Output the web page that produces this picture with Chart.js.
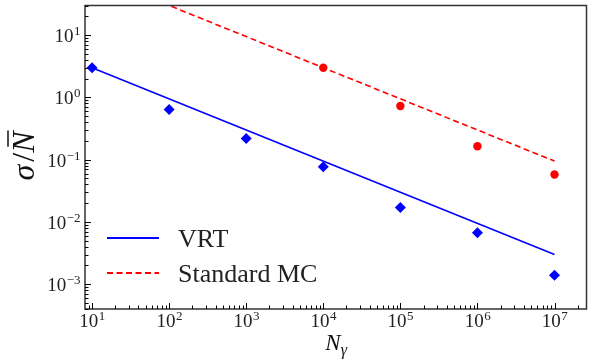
<!DOCTYPE html>
<html>
<head>
<meta charset="utf-8">
<script src="https://cdn.jsdelivr.net/npm/chart.js@4/dist/chart.umd.min.js"></script>
<style>
  html, body { margin: 0; padding: 0; background: #fff; }
  #wrap { width: 592px; height: 364px; }
</style>
</head>
<body>
<div id="wrap"><canvas id="chart"></canvas></div>
<script>
// photon counts and relative error
const nGamma = [1e1, 1e2, 1e3, 1e4, 1e5, 1e6, 1e7];
const vrtPoints = [3.0, 0.64, 0.22, 0.077, 0.017, 0.0067, 0.0014];
const mcN = [1e4, 1e5, 1e6, 1e7];
const mcPoints = [3.0, 0.73, 0.165, 0.058];

// fitted 1/sqrt(N) lines (end points)
const vrtFitX = [1e1, 1e7];
const vrtFitY = [3.0, 0.003];
const mcFitX = [1e1, 1e7];
const mcFitY = [95, 0.095];

const xTickExps = [1, 2, 3, 4, 5, 6, 7];
const yTickExps = [-3, -2, -1, 0, 1];

const SERIF = '"Liberation Serif", "DejaVu Serif", serif';

function pairs(xs, ys) {
    return xs.map((x, i) => ({ x: x, y: ys[i] }));
}

// frame, inward ticks, tick labels, axis titles and legend
const decorPlugin = {
    id: 'decor',
    afterDraw(chart) {
        const ctx = chart.ctx;
        const a = chart.chartArea;
        const xs = chart.scales.x;
        const ys = chart.scales.y;
        ctx.save();

        // frame
        ctx.strokeStyle = '#333';
        ctx.lineWidth = 1.5;
        ctx.strokeRect(a.left, a.top, a.right - a.left, a.bottom - a.top);

        // ticks
        ctx.strokeStyle = '#000';
        ctx.lineWidth = 1;
        for (let e = -4; e <= 8; e++) {
            for (let k = 1; k <= 9; k++) {
                const v = k * Math.pow(10, e);
                const len = k === 1 ? 6 : 3.5;
                if (v >= xs.min && v <= xs.max) {
                    const px = Math.round(xs.getPixelForValue(v)) + 0.5;
                    ctx.beginPath();
                    ctx.moveTo(px, a.bottom);
                    ctx.lineTo(px, a.bottom - len);
                    ctx.stroke();
                }
                if (v >= ys.min && v <= ys.max) {
                    const py = Math.round(ys.getPixelForValue(v)) + 0.5;
                    ctx.beginPath();
                    ctx.moveTo(a.left, py);
                    ctx.lineTo(a.left + len, py);
                    ctx.stroke();
                }
            }
        }

        // tick labels 10^n
        ctx.fillStyle = '#222';
        ctx.textBaseline = 'alphabetic';
        const baseFont = '19px ' + SERIF;
        const expFont = '13px ' + SERIF;
        function expText(e) { return e < 0 ? '\u2212' + (-e) : String(e); }
        function labelWidth(e) {
            ctx.font = baseFont;
            const w1 = ctx.measureText('10').width;
            ctx.font = expFont;
            const w2 = ctx.measureText(expText(e)).width;
            return [w1, w2];
        }
        function drawLabel(e, left, baseline) {
            const w = labelWidth(e);
            ctx.font = baseFont;
            ctx.textAlign = 'left';
            ctx.fillText('10', left, baseline);
            ctx.font = expFont;
            ctx.fillText(expText(e), left + w[0] + 0.5, baseline - 7);
        }
        xTickExps.forEach(e => {
            const px = xs.getPixelForValue(Math.pow(10, e));
            const w = labelWidth(e);
            drawLabel(e, px - (w[0] + w[1]) / 2, a.bottom + 18);
        });
        yTickExps.forEach(e => {
            const py = ys.getPixelForValue(Math.pow(10, e));
            const w = labelWidth(e);
            drawLabel(e, a.left - 5 - (w[0] + w[1]), py + 7);
        });

        // x title  N_gamma
        ctx.fillStyle = '#111';
        ctx.font = 'italic 23px ' + SERIF;
        ctx.textAlign = 'left';
        const nW = ctx.measureText('N').width;
        const xCenter = 338;
        ctx.fillText('N', xCenter - nW / 2 - 5, 350);
        ctx.font = 'italic 16px ' + SERIF;
        ctx.fillText('\u03B3', xCenter + nW / 2 - 5, 355);

        // y title  sigma / N-bar (rotated)
        ctx.save();
        ctx.translate(22, 156);
        ctx.rotate(-Math.PI / 2);
        ctx.font = 'italic 32px ' + SERIF;
        const sW = ctx.measureText('\u03C3').width;
        ctx.font = '32px ' + SERIF;
        const slW = ctx.measureText('/').width;
        ctx.font = 'italic 32px ' + SERIF;
        const NW = ctx.measureText('N').width;
        const total = sW + 3 + slW + NW;
        let u = -total / 2;
        const base = 12;
        ctx.fillText('\u03C3', u, base);
        u += sW + 3;
        ctx.font = '32px ' + SERIF;
        ctx.fillText('/', u, base);
        u += slW;
        ctx.font = 'italic 32px ' + SERIF;
        ctx.fillText('N', u, base);
        ctx.strokeStyle = '#111';
        ctx.lineWidth = 1.5;
        ctx.beginPath();
        ctx.moveTo(u + 6, base - 26);
        ctx.lineTo(u + NW + 1, base - 26);
        ctx.stroke();
        ctx.restore();

        // legend
        const items = [chart.data.datasets[0], chart.data.datasets[1]];
        const rows = [238, 273];
        items.forEach((ds, i) => {
            const y = rows[i];
            ctx.strokeStyle = ds.borderColor;
            ctx.lineWidth = 2;
            ctx.setLineDash(ds.borderDash || []);
            ctx.beginPath();
            ctx.moveTo(107, y);
            ctx.lineTo(159, y);
            ctx.stroke();
            ctx.setLineDash([]);
            ctx.fillStyle = '#222';
            ctx.font = '26px ' + SERIF;
            ctx.textAlign = 'left';
            ctx.fillText(ds.label, 178, y + 9);
        });

        ctx.restore();
    }
};

new Chart(document.getElementById('chart'), {
    type: 'scatter',
    data: {
        datasets: [
            {
                label: 'VRT',
                data: pairs(vrtFitX, vrtFitY),
                showLine: true,
                borderColor: '#0000ff',
                borderWidth: 1.6,
                pointRadius: 0
            },
            {
                label: 'Standard MC',
                data: pairs(mcFitX, mcFitY),
                showLine: true,
                borderColor: '#ff0000',
                borderWidth: 1.6,
                borderDash: [6, 3.5],
                pointRadius: 0
            },
            {
                label: 'VRT data',
                data: pairs(nGamma, vrtPoints),
                pointStyle: 'rectRot',
                pointRadius: 5.5,
                backgroundColor: '#0000ff',
                borderColor: '#0000ff',
                borderWidth: 0
            },
            {
                label: 'MC data',
                data: pairs(mcN, mcPoints),
                pointStyle: 'circle',
                pointRadius: 4.2,
                backgroundColor: '#ff0000',
                borderColor: '#ff0000',
                borderWidth: 0
            }
        ]
    },
    options: {
        responsive: true,
        maintainAspectRatio: false,
        animation: false,
        layout: { padding: { top: 3, right: 2, left: 0, bottom: 0 } },
        plugins: {
            legend: { display: false },
            tooltip: { enabled: false }
        },
        scales: {
            x: {
                type: 'logarithmic',
                min: 8.1,
                max: 2.6e7,
                grid: { display: false },
                border: { display: false },
                ticks: { display: false },
                afterFit(scale) { scale.height = 55; }
            },
            y: {
                type: 'logarithmic',
                min: 4e-4,
                max: 30,
                grid: { display: false },
                border: { display: false },
                ticks: { display: false },
                afterFit(scale) { scale.width = 85; }
            }
        }
    },
    plugins: [decorPlugin]
});
</script>
</body>
</html>
